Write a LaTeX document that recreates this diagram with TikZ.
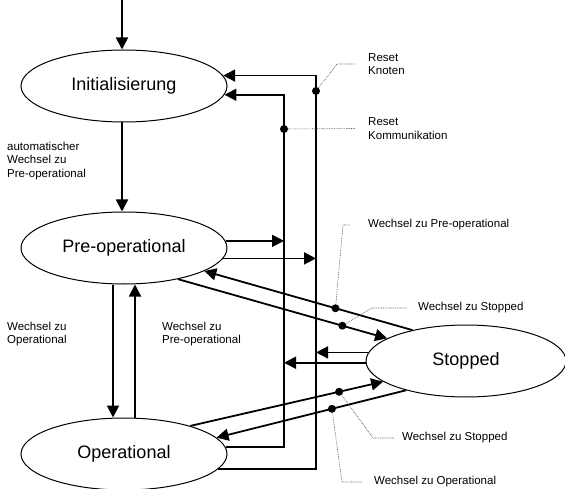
\documentclass[tikz,border=0pt]{standalone}
\usepackage{fontspec}
\setmainfont{Liberation Sans}
\usepackage{tikz}
\usetikzlibrary{shapes.geometric, arrows.meta, calc}
\tikzstyle{arrow} = [line width=1.8pt, -{Triangle[length=12pt,width=12pt]}]
\tikzstyle{state} = [draw, ellipse, line width=1pt, minimum width=206pt, minimum height=72pt, inner sep=0pt, font=\fontsize{18}{21}\selectfont]
\tikzstyle{dot} = [circle, fill=black, inner sep=0pt, minimum size=8pt]
\tikzstyle{lead} = [dash pattern=on 0.8pt off 0.9pt, line width=0.6pt, gray!70!black]
\tikzstyle{note} = [anchor=west, align=left, inner sep=0pt, font=\fontsize{11.5}{13.5}\selectfont]

\begin{document}
\begin{tikzpicture}[x=1pt, y=-1pt]
  \useasboundingbox (0,0) rectangle (565,489);

  % states
  \node[state] (Init) at (124,86) {Initialisierung};
  \node[state] (PreOp) at (124,248) {Pre-operational};
  \node[state] (Op) at (124,454) {Operational};
  \node[state, minimum width=200pt] (Stopped) at (466,361) {Stopped};

  \coordinate (Start) at (122,0);
  \coordinate (KnX) at (316,0);
  \coordinate (KomX) at (284,0);

  % transitions on the left
  \draw[arrow] (Start) -- (Start |- Init.north);
  \draw[arrow] ([xshift=-2pt]Init.south) -- ([xshift=-2pt]PreOp.north);
  \draw[arrow] ([xshift=-11pt]PreOp.south) -- ([xshift=-11pt]Op.north);
  \draw[arrow] ([xshift=11pt]Op.north) -- ([xshift=11pt]PreOp.south);

  % reset lines
  \draw[arrow] (Op.-9) -- (Op.-9 -| KnX) -- (Init.6 -| KnX) -- (Init.6);
  \draw[arrow] (Op.4) -- (Op.4 -| KomX) -- (Init.-5 -| KomX) -- (Init.-5);
  \draw[arrow] (PreOp.4) -- (PreOp.4 -| KomX);
  \draw[arrow] (PreOp.-6) -- (PreOp.-6 -| KnX);
  \draw[arrow] (Stopped.175) -- (Stopped.175 -| KnX);
  \draw[arrow] (Stopped.181) -- (Stopped.181 -| KomX);
  \node[dot] (dKn) at (KnX |- 0,91) {};
  \node[dot] (dKom) at (KomX |- 0,129) {};

  % transitions to and from Stopped
  \draw[arrow] (Stopped.150) -- (PreOp.-16) node[dot, pos=0.37] (dPre) {};
  \draw[arrow] (PreOp.-30) -- (Stopped.164) node[dot, pos=0.786] (dStA) {};
  \draw[arrow] (Op.23) -- (Stopped.194) node[dot, pos=0.772] (dStB) {};
  \draw[arrow] (Stopped.206) -- (Op.10) node[dot, pos=0.391] (dOp) {};

  % Labels
  \node[note] (lKn) at (368,64) {Reset\\Knoten};
  \node[note] (lKom) at (368,128.5) {Reset\\Kommunikation};
  \node[note] (lPre) at (368,225) {Wechsel zu Pre-operational};
  \node[note] (lStA) at (418,308) {Wechsel zu Stopped};
  \node[note] (lStB) at (402,438) {Wechsel zu Stopped};
  \node[note] (lOp) at (374,482) {Wechsel zu Operational};
  \node[note] (lAuto) at (7,161) {automatischer\\Wechsel zu\\Pre-operational};
  \node[note] (lToOp) at (7,334) {Wechsel zu\\Operational};
  \node[note] (lToPre) at (162,334) {Wechsel zu\\Pre-operational};

  % leaders
  \draw[lead] (dKn) -- ([xshift=-31pt]lKn.west) -- ([xshift=-12pt]lKn.west);
  \draw[lead] (dKom) -- ([xshift=-13pt]lKom.west);
  \draw[lead] (dPre) -- ([xshift=-25pt]lPre.west) -- ([xshift=-17pt]lPre.west);
  \draw[lead] (dStA) -- ([xshift=-46pt]lStA.west) -- ([xshift=-11pt]lStA.west);
  \draw[lead] (dStB) -- ([xshift=-29pt]lStB.west) -- ([xshift=-7pt]lStB.west);
  \draw[lead] (dOp) -- ([xshift=-32pt]lOp.west) -- ([xshift=-12pt]lOp.west);
\end{tikzpicture}
\end{document}
